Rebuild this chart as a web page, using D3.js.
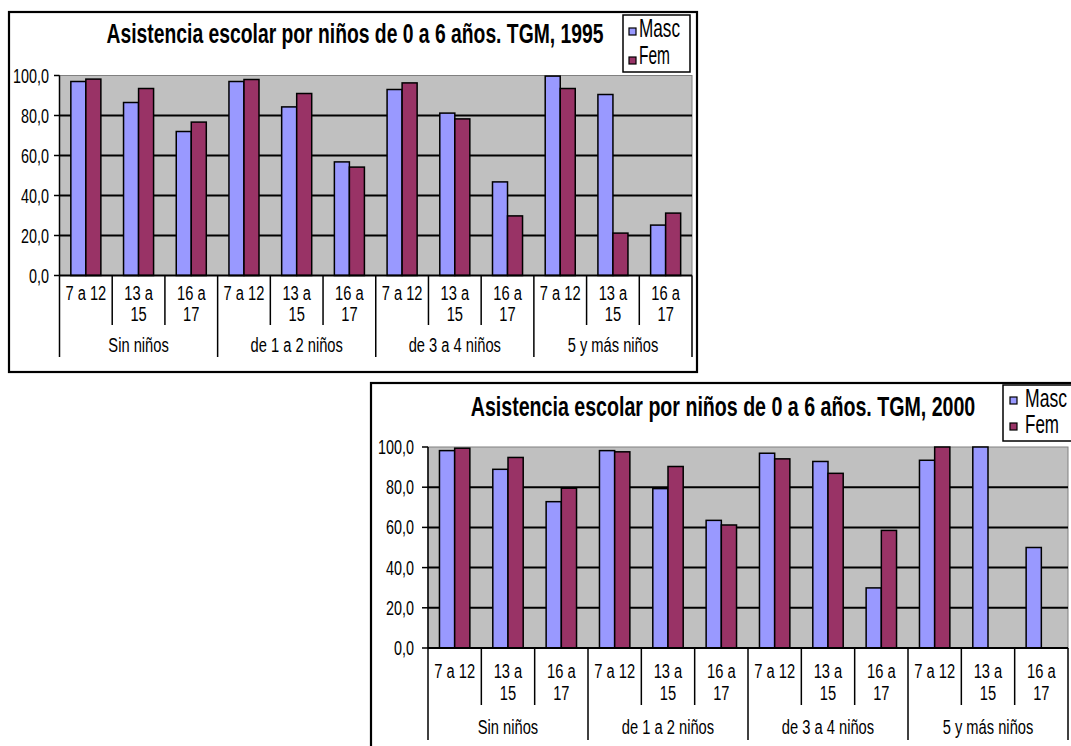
<!DOCTYPE html>
<html>
<head>
<meta charset="utf-8">
<script src="https://cdn.jsdelivr.net/npm/d3@7"></script>
<style>
html,body{margin:0;padding:0;background:#fff;}
svg{display:block;}
text{font-family:"Liberation Sans",Arial,sans-serif;fill:#000;}
</style>
</head>
<body>
<svg id="c" width="1071" height="746"></svg>
<script>
// ---- data ----
const groups = ["Sin niños", "de 1 a 2 niños", "de 3 a 4 niños", "5 y más niños"];
const ageLabels = [["7 a 12"], ["13 a", "15"], ["16 a", "17"]];
const seriesNames = ["Masc", "Fem"];
const yTicks = [0, 20, 40, 60, 80, 100];
const masc1995 = [97.0, 86.5, 72.0, 97.0, 84.3, 56.8, 93.0, 81.2, 46.8, 99.7, 90.5, 25.2];
const fem1995  = [98.2, 93.5, 76.7, 98.0, 91.0, 54.2, 96.3, 78.3, 29.8, 93.5, 21.2, 31.2];
const masc2000 = [98.2, 88.9, 72.8, 98.2, 79.3, 63.5, 96.9, 92.8, 29.9, 93.4, 100.0, 50.0];
const fem2000  = [99.4, 94.8, 79.5, 97.6, 90.3, 61.2, 94.1, 86.9, 58.5, 100.0, null, null];
const titles = ["Asistencia escolar por niños de 0 a 6 años. TGM, 1995",
                "Asistencia escolar por niños de 0 a 6 años. TGM, 2000"];

// ---- layout/styles ----
const colors = {Masc: "#9999FF", Fem: "#993366"};
const SX = 0.7;
const svg = d3.select("#c");

const layouts = [
  {border: [9, 12, 688, 360], plot: {l: 59.5, r: 692, t: 75.5, b: 275.5},
   title: {x: 355, y: 43, len: 497},
   legend: {x: 623, y: 15, w: 67, h: 57, sqx: 629, sq: [28, 57], tx: 639, ty: [37, 64], len: [41, 31]},
   ylabR: 49, tickL: 54, line1: 300, line2: 321, innerEnd: 325, grpY: 352, grpEnd: 357},
  {border: [371, 383, 730, 420], plot: {l: 428, r: 1068, t: 447, b: 648},
   title: {x: 723, y: 416, len: 505},
   legend: {x: 1003, y: 385, w: 70, h: 56, sqx: 1010, sq: [397, 423], tx: 1025, ty: [407, 433], len: [42, 34]},
   ylabR: 414, tickL: 422, line1: 678, line2: 700, innerEnd: 705, grpY: 734, grpEnd: 740}
];
const datasets = [[masc1995, fem1995], [masc2000, fem2000]];

function stext(g, x, y, str, size, anchor) {
  return g.append("text")
    .attr("transform", `translate(${x},${y}) scale(${SX},1)`)
    .attr("text-anchor", anchor || "middle")
    .style("font-size", size + "px")
    .text(str);
}
// text squeezed horizontally to a given width, with a true bounding box
function fitText(g, x, y, str, size, width, anchor, weight) {
  const t = g.append("text")
    .attr("text-anchor", anchor)
    .style("font-size", size + "px")
    .style("font-weight", weight || "normal")
    .text(str);
  const w = t.node().getComputedTextLength() || width;
  t.attr("transform", `translate(${x},${y}) scale(${width / w},1)`);
  return t;
}

layouts.forEach((L, ci) => {
  const g = svg.append("g");
  const [mv, fv] = datasets[ci];
  const cats = d3.range(groups.length * ageLabels.length);
  const rows = cats.map(i => ({i, Masc: mv[i], Fem: fv[i]}));

  // border
  g.append("rect").attr("x", L.border[0]).attr("y", L.border[1])
    .attr("width", L.border[2]).attr("height", L.border[3])
    .attr("fill", "#fff").attr("stroke", "#000").attr("stroke-width", 2.2);

  const P = L.plot;
  const x = d3.scaleBand().domain(cats).range([P.l, P.r]).padding(0);
  const xs = d3.scaleBand().domain(seriesNames)
    .range([x.bandwidth() * 0.215, x.bandwidth() * 0.785]).padding(0);
  const y = d3.scaleLinear().domain([0, 100]).range([P.b, P.t]);

  // plot area
  g.append("rect").attr("x", P.l).attr("y", P.t)
    .attr("width", P.r - P.l).attr("height", P.b - P.t)
    .attr("fill", "#C0C0C0").attr("stroke", "#808080").attr("stroke-width", 1);

  // gridlines
  g.append("g").selectAll("line").data(yTicks.filter(v => v > 0 && v < 100)).join("line")
    .attr("x1", P.l).attr("x2", P.r).attr("y1", d => y(d)).attr("y2", d => y(d))
    .attr("stroke", "#000").attr("stroke-width", 2);

  // bars
  const bars = [];
  rows.forEach(r => seriesNames.forEach(s => { if (r[s] != null) bars.push({i: r.i, s, v: r[s]}); }));
  g.append("g").selectAll("rect").data(bars).join("rect")
    .attr("x", d => x(d.i) + xs(d.s))
    .attr("y", d => y(d.v))
    .attr("width", xs.bandwidth())
    .attr("height", d => y(0) - y(d.v))
    .attr("fill", d => colors[d.s])
    .attr("stroke", "#000").attr("stroke-width", 1.5);

  // y axis
  const fmt = v => d3.format(".1f")(v).replace(".", ",");
  g.append("line").attr("x1", P.l).attr("x2", P.l).attr("y1", y(0)).attr("y2", y(100))
    .attr("stroke", "#000").attr("stroke-width", 1.5);
  yTicks.forEach(v => {
    g.append("line").attr("x1", L.tickL).attr("x2", P.l).attr("y1", y(v)).attr("y2", y(v))
      .attr("stroke", "#000").attr("stroke-width", 1.5);
    stext(g, L.ylabR, y(v) + 7, fmt(v), 20.5, "end");
  });

  // x axis
  g.append("line").attr("x1", P.l).attr("x2", P.r).attr("y1", y(0)).attr("y2", y(0))
    .attr("stroke", "#000").attr("stroke-width", 2);
  const n = ageLabels.length;
  d3.range(cats.length + 1).forEach(k => {
    const xx = k < cats.length ? x(k) : P.r;
    const isGroup = k % n === 0;
    g.append("line").attr("x1", xx).attr("x2", xx).attr("y1", y(0))
      .attr("y2", isGroup ? L.grpEnd : L.innerEnd)
      .attr("stroke", "#000").attr("stroke-width", 1.5);
  });
  cats.forEach(i => {
    const lab = ageLabels[i % n];
    const cx = x(i) + x.bandwidth() / 2;
    stext(g, cx, L.line1, lab[0], 21);
    if (lab[1]) stext(g, cx, L.line2, lab[1], 21);
  });
  groups.forEach((gname, gi) => {
    const x0 = x(gi * n), x1 = (gi + 1) * n < cats.length ? x((gi + 1) * n) : P.r;
    stext(g, (x0 + x1) / 2, L.grpY, gname, 21);
  });

  // title
  fitText(g, L.title.x, L.title.y, titles[ci], 28, L.title.len, "middle", "bold");

  // legend
  const Lg = L.legend;
  g.append("rect").attr("x", Lg.x).attr("y", Lg.y).attr("width", Lg.w).attr("height", Lg.h)
    .attr("fill", "#fff").attr("stroke", "#000").attr("stroke-width", 1.5);
  seriesNames.forEach((s, k) => {
    g.append("rect").attr("x", Lg.sqx).attr("y", Lg.sq[k]).attr("width", 7).attr("height", 7)
      .attr("fill", colors[s]).attr("stroke", "#000").attr("stroke-width", 1.2);
    fitText(g, Lg.tx, Lg.ty[k], s, 25, Lg.len[k], "start");
  });
});
</script>
</body>
</html>
